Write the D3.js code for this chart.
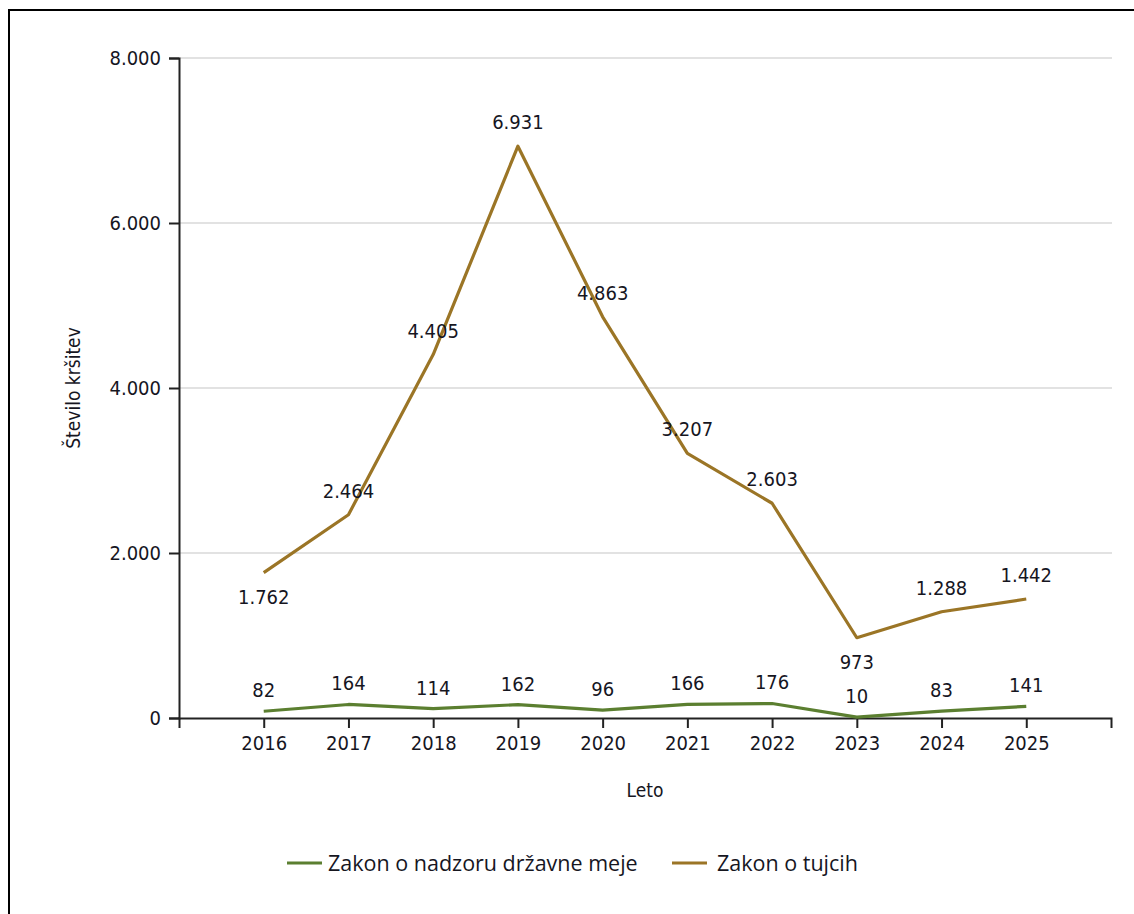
<!DOCTYPE html>
<html><head><meta charset="utf-8">
<script src="https://cdn.jsdelivr.net/npm/d3@7"></script>
<style>
html,body{margin:0;padding:0;background:#fff;}
svg{display:block;}
.lbl{font-family:"DejaVu Sans Condensed","DejaVu Sans",sans-serif;font-stretch:condensed;fill:#16161f;}
.leg{font-family:"Open Sans",sans-serif;fill:#16161f;}
</style></head>
<body>
<svg id="c" width="1134" height="914"></svg>
<script>
const years = ["2016","2017","2018","2019","2020","2021","2022","2023","2024","2025"];
const seriesNames = ["Zakon o nadzoru državne meje","Zakon o tujcih"];
const nadzor = [82,164,114,162,96,166,176,10,83,141];
const tujci = [1762,2464,4405,6931,4863,3207,2603,973,1288,1442];
const tujciLabelBelow = [true,false,false,false,false,false,false,true,false,false];
const yTicks = [0,2000,4000,6000,8000];
const colors = ["#5b7f30","#9b7526"];

const svg = d3.select("#c");
const L=179, R=1111, T=58, B=718;
const x = d3.scalePoint().domain(years).range([L,R]).padding(1);
const y = d3.scaleLinear().domain([0,8000]).range([B,T]);
const fmt = d3.formatLocale({decimal:",",thousands:".",grouping:[3],currency:["","€"]}).format(",d");

// frame
svg.append("line").attr("x1",9).attr("x2",9).attr("y1",9).attr("y2",914).attr("stroke","#000").attr("stroke-width",2);
svg.append("line").attr("x1",8).attr("x2",1134).attr("y1",10).attr("y2",10).attr("stroke","#000").attr("stroke-width",2);

// grid
svg.append("g").selectAll("line").data(yTicks.filter(d=>d>0)).join("line")
  .attr("x1",L).attr("x2",R+1).attr("y1",d=>y(d)).attr("y2",d=>y(d))
  .attr("stroke","#e2e2e2").attr("stroke-width",2);

// y axis
const ya = svg.append("g").attr("transform",`translate(${L},0)`)
  .call(d3.axisLeft(y).tickValues(yTicks).tickFormat(fmt).tickSize(10).tickPadding(8));
ya.select(".domain").attr("stroke","#222").attr("stroke-width",2);
ya.selectAll(".tick line").attr("stroke","#222").attr("stroke-width",2);
ya.selectAll(".tick text").attr("class","lbl").style("font-size","20px");

// x axis
const xa = svg.append("g").attr("transform",`translate(0,${B})`)
  .call(d3.axisBottom(x).tickSize(10).tickSizeOuter(10).tickPadding(8));
xa.select(".domain").attr("stroke","#222").attr("stroke-width",2);
xa.selectAll(".tick line").attr("stroke","#222").attr("stroke-width",2);
xa.selectAll(".tick text").attr("class","lbl").style("font-size","20px");

// titles
svg.append("text").attr("class","lbl").attr("transform",`translate(80,${(T+B)/2}) rotate(-90)`)
  .attr("text-anchor","middle").style("font-size","19px").text("Število kršitev");
svg.append("text").attr("class","lbl").attr("x",(L+R)/2).attr("y",797)
  .attr("text-anchor","middle").style("font-size","19px").text("Leto");

// lines
const line = d3.line().x((d,i)=>x(years[i])).y(d=>y(d));
[nadzor,tujci].forEach((s,k)=>{
  svg.append("path").datum(s).attr("d",line).attr("fill","none")
    .attr("stroke",colors[k]).attr("stroke-width",3.2).attr("stroke-linejoin","round");
});

// labels
svg.append("g").selectAll("text").data(nadzor).join("text").attr("class","lbl")
  .attr("x",(d,i)=>x(years[i])).attr("y",d=>y(d)-21).attr("dy","0.35em")
  .attr("text-anchor","middle").style("font-size","20px").text(d=>fmt(d));
svg.append("g").selectAll("text").data(tujci).join("text").attr("class","lbl")
  .attr("x",(d,i)=>x(years[i])).attr("y",(d,i)=>y(d)+(tujciLabelBelow[i]?24:-24)).attr("dy","0.35em")
  .attr("text-anchor","middle").style("font-size","20px").text(d=>fmt(d));

// legend
const legX = [287,672];
const legTextX = [328,717];
seriesNames.forEach((n,k)=>{
  svg.append("line").attr("x1",legX[k]).attr("x2",legX[k]+35).attr("y1",863).attr("y2",863)
    .attr("stroke",colors[k]).attr("stroke-width",3);
  svg.append("text").attr("class","leg").attr("x",legTextX[k]).attr("y",863).attr("dy","0.35em")
    .style("font-size","21.5px").text(n);
});
</script>
</body></html>
